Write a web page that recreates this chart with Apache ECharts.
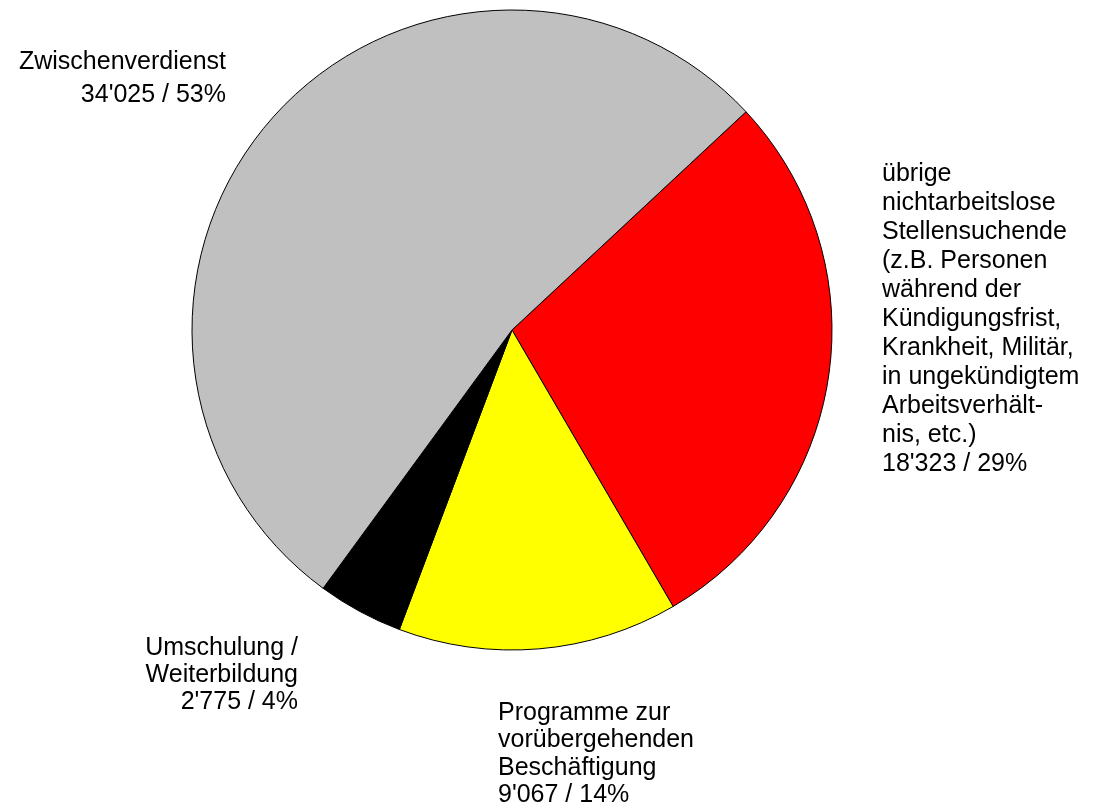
<!DOCTYPE html>
<html>
<head>
<meta charset="utf-8">
<script src="https://cdn.jsdelivr.net/npm/echarts@6/dist/echarts.min.js"></script>
<style>
  html, body { margin: 0; padding: 0; background: #fff; }
  #main { width: 1097px; height: 812px; }
</style>
</head>
<body>
<div id="main"></div>
<script>
// data
var names = [
    'übrige\nnichtarbeitslose\nStellensuchende\n(z.B. Personen\nwährend der\nKündigungsfrist,\nKrankheit, Militär,\nin ungekündigtem\nArbeitsverhält-\nnis, etc.)',
    'Programme zur\nvorübergehenden\nBeschäftigung',
    'Umschulung /\nWeiterbildung',
    'Zwischenverdienst'
];
var values = [18323, 9067, 2775, 34025];
var colors = ['#ff0000', '#ffff00', '#000000', '#c0c0c0'];

// where each label sits (x, y, align, line height)
var labelPos = [
    { x: 882, y: 160, align: 'left', lh: 29 },
    { x: 498, y: 699, align: 'left', lh: 27.5 },
    { x: 298, y: 635, align: 'right', lh: 27 },
    { x: 226, y: 46, align: 'right', lh: 33 }
];

var total = values.reduce(function (a, b) { return a + b; }, 0);

function fmt(n) {
    return String(n).replace(/\B(?=(\d{3})+(?!\d))/g, "'");
}

var myChart = echarts.init(document.getElementById('main'));

var seriesData = values.map(function (v, i) {
    return {
        name: names[i],
        value: v,
        itemStyle: { color: colors[i] },
        label: { align: labelPos[i].align, lineHeight: labelPos[i].lh }
    };
});

myChart.setOption({
    animation: false,
    series: [
        {
            type: 'pie',
            center: [512, 330],
            radius: 320,
            startAngle: 43,
            clockwise: true,
            data: seriesData,
            itemStyle: {
                borderColor: '#000',
                borderWidth: 1
            },
            emphasis: { disabled: true },
            labelLine: { show: false },
            label: {
                show: true,
                color: '#000',
                fontFamily: 'Liberation Sans, Arial, sans-serif',
                fontSize: 25,
                formatter: function (p) {
                    var pct = Math.round(p.value / total * 100);
                    return p.name + '\n' + fmt(p.value) + ' / ' + pct + '%';
                }
            },
            labelLayout: function (params) {
                var lp = labelPos[params.dataIndex];
                return {
                    x: lp.x,
                    y: lp.y,
                    align: lp.align,
                    verticalAlign: 'top'
                };
            }
        }
    ]
});
</script>
</body>
</html>
